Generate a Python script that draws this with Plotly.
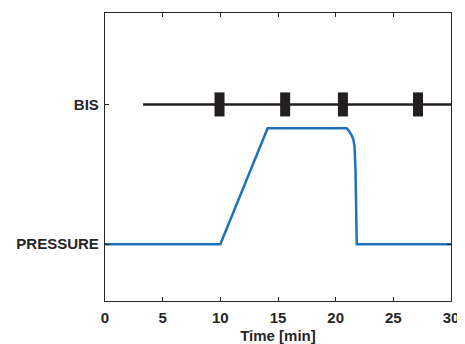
import plotly.graph_objects as go

# Data
press_time = [0, 10, 14.1, 20.95, 21.15, 21.38, 21.55, 21.64, 21.72, 21.79, 21.83, 30]
press_val = [0, 0, 0.83, 0.83, 0.81, 0.78, 0.745, 0.695, 0.53, 0.05, 0, 0]
bis_start = 3.3
bis_end = 30
bis_level = 1
bis_events = [9.93, 15.62, 20.63, 27.14]
event_halfheight = 0.086
y_tickvals = [0, 1]
y_ticktext = ["PRESSURE", "BIS"]
x_tickvals = [0, 5, 10, 15, 20, 25, 30]

BLUE = "#1f72b8"
BLACK = "#231f20"
AX = "#262626"

fig = go.Figure()

fig.add_trace(go.Scatter(x=[bis_start, bis_end], y=[bis_level, bis_level], mode="lines",
                         line=dict(color=BLACK, width=2.5), hoverinfo="skip", showlegend=False))

ex, ey = [], []
for t in bis_events:
    ex += [t, t, None]
    ey += [bis_level - event_halfheight, bis_level + event_halfheight, None]
fig.add_trace(go.Scatter(x=ex, y=ey, mode="lines", line=dict(color=BLACK, width=10),
                         hoverinfo="skip", showlegend=False))

fig.add_trace(go.Scatter(x=press_time, y=press_val, mode="lines",
                         line=dict(color=BLUE, width=2.5), showlegend=False))

font = dict(family="Liberation Sans, Arial, sans-serif", size=15, color=AX, weight="bold")

# page body has an 8px default margin; compensate so the plot lands where the reference has it
fig.update_layout(
    width=457, height=336,
    margin=dict(l=97, r=14, t=5, b=43),
    paper_bgcolor="white", plot_bgcolor="white",
    font=font,
    xaxis=dict(range=[0, 30], tickvals=x_tickvals, ticks="inside", ticklen=4, tickwidth=1.3,
               tickcolor=AX, showline=True, linecolor=AX, linewidth=1.3, mirror="ticks",
               showgrid=False, zeroline=False, tickfont=font, automargin=False,
               ticklabelstandoff=3,
               title=dict(text="Time [min]", font=dict(family=font["family"], size=15, color=AX, weight="bold"), standoff=6)),
    yaxis=dict(range=[-0.406, 1.654], tickvals=y_tickvals, ticktext=y_ticktext, ticks="inside",
               ticklen=4, tickwidth=1.3, tickcolor=AX, showline=True, linecolor=AX, linewidth=1.3,
               mirror="ticks", showgrid=False, zeroline=False, tickfont=font, automargin=False,
               ticklabelstandoff=2),
)

fig.write_html("out.html")
